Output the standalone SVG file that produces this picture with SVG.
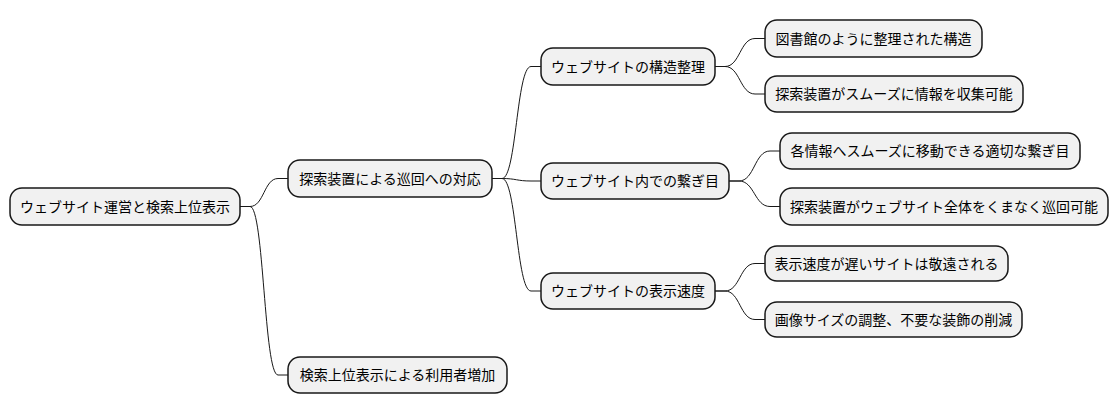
<svg xmlns="http://www.w3.org/2000/svg" width="1118" height="415" viewBox="0 0 1118 415">
<style>
.n rect{fill:#F1F1F1;stroke:#181818;stroke-width:1.5}
.n text{font-family:"Noto Sans CJK JP","Liberation Sans",sans-serif;font-size:14px;fill:#000;text-anchor:middle}
#edges path{fill:none;stroke:#181818;stroke-width:1}
</style>
<rect width="1118" height="415" fill="#FFFFFF"/>
<g id="edges">
<path d="M240,206.5 L250,206.5 C264,206.5 264,178.5 278,178.5 L288,178.5"/>
<path d="M240,206.5 L250,206.5 C264,206.5 264,375 278,375 L288,375"/>
<path d="M492,178.5 L502,178.5 C516.5,178.5 516.5,66.5 531,66.5 L541,66.5"/>
<path d="M492,178.5 L502,178.5 C516.5,178.5 516.5,181 531,181 L541,181"/>
<path d="M492,178.5 L502,178.5 C516.5,178.5 516.5,291 531,291 L541,291"/>
<path d="M715,66.5 L725,66.5 C740,66.5 740,38.5 755,38.5 L765,38.5"/>
<path d="M715,66.5 L725,66.5 C740,66.5 740,94 755,94 L765,94"/>
<path d="M729,181 L739,181 C754.5,181 754.5,151 770,151 L780,151"/>
<path d="M729,181 L739,181 C754.5,181 754.5,206.5 770,206.5 L780,206.5"/>
<path d="M715,291 L725,291 C740,291 740,263.5 755,263.5 L765,263.5"/>
<path d="M715,291 L725,291 C740,291 740,319.5 755,319.5 L765,319.5"/>
</g>
<g id="root" class="n"><rect x="10" y="188" width="230" height="37" rx="12"/><text x="125" y="211.5">ウェブサイト運営と検索上位表示</text></g>
<g id="n1" class="n"><rect x="288" y="160" width="204" height="37" rx="12"/><text x="390" y="183.5">探索装置による巡回への対応</text></g>
<g id="n2" class="n"><rect x="288" y="357" width="219" height="36" rx="12"/><text x="397.5" y="380">検索上位表示による利用者増加</text></g>
<g id="n11" class="n"><rect x="541" y="48" width="174" height="37" rx="12"/><text x="628" y="71.5">ウェブサイトの構造整理</text></g>
<g id="n12" class="n"><rect x="541" y="163" width="188" height="36" rx="12"/><text x="635" y="186">ウェブサイト内での繋ぎ目</text></g>
<g id="n13" class="n"><rect x="541" y="273" width="174" height="36" rx="12"/><text x="628" y="296">ウェブサイトの表示速度</text></g>
<g id="n111" class="n"><rect x="765" y="20" width="217" height="37" rx="12"/><text x="873.5" y="43.5">図書館のように整理された構造</text></g>
<g id="n112" class="n"><rect x="765" y="76" width="258" height="36" rx="12"/><text x="894" y="99">探索装置がスムーズに情報を収集可能</text></g>
<g id="n121" class="n"><rect x="780" y="133" width="300" height="36" rx="12"/><text x="930" y="156">各情報へスムーズに移動できる適切な繋ぎ目</text></g>
<g id="n122" class="n"><rect x="780" y="188" width="328" height="37" rx="12"/><text x="944" y="211.5">探索装置がウェブサイト全体をくまなく巡回可能</text></g>
<g id="n131" class="n"><rect x="765" y="246" width="243" height="35" rx="12"/><text x="886.5" y="268.5">表示速度が遅いサイトは敬遠される</text></g>
<g id="n132" class="n"><rect x="765" y="302" width="257" height="35" rx="12"/><text x="893.5" y="324.5">画像サイズの調整、不要な装飾の削減</text></g>
</svg>
